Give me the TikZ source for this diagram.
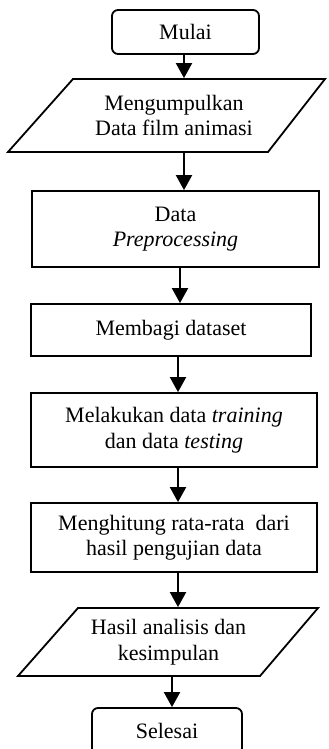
\documentclass[tikz,border=0pt]{standalone}
\usepackage{fontspec}
\setmainfont{Liberation Serif}
\usetikzlibrary{arrows.meta}
\begin{document}
\begin{tikzpicture}[x=1pt,y=-1pt, line width=1.8pt,
  lbl/.style={inner sep=0pt, align=center, font=\fontsize{22}{25.5}\selectfont},
  box/.style={lbl, draw, rectangle},
  term/.style={box, rounded corners=6pt},
  arr/.style={-{Triangle[width=16pt,length=15pt]}, line width=2pt}]
\useasboundingbox (0,0) rectangle (329,749);

\node[term, minimum width=147pt, minimum height=44pt] (mulai) at (185.5,32) {Mulai};
\draw (73,79) -- (325,79) -- (268,152) -- (8,152) -- cycle;
\node[lbl, minimum height=73pt] (p1) at (174,115.5) {Mengumpulkan\\Data film animasi};
\node[box, minimum width=287pt, minimum height=76pt] (prep) at (175.5,229) {Data\\\textit{Preprocessing}};
\node[box, minimum width=280pt, minimum height=52pt] (bagi) at (171,330) {Membagi dataset};
\node[box, minimum width=286pt, minimum height=74pt] (latih) at (174,430) {Melakukan data \textit{training}\\dan data \textit{testing}};
\node[box, minimum width=286pt, minimum height=69pt] (hitung) at (174,537.5) {Menghitung rata-rata~ dari\\hasil pengujian data};
\draw (78,608) -- (318,608) -- (260,676) -- (18,676) -- cycle;
\node[lbl, minimum height=68pt] (p2) at (168.5,642) {Hasil analisis dan\\kesimpulan};
\node[term, minimum width=150pt, minimum height=46pt] (selesai) at (167,731) {Selesai};

\coordinate (x1) at (184,0);
\coordinate (x2) at (180,0);
\coordinate (x3) at (178,0);
\coordinate (x4) at (172,0);
\draw[arr] (mulai.south -| x1) -- (p1.north -| x1);
\draw[arr] (p1.south -| x1) -- (prep.north -| x1);
\draw[arr] (prep.south -| x2) -- (bagi.north -| x2);
\draw[arr] (bagi.south -| x3) -- (latih.north -| x3);
\draw[arr] (latih.south -| x3) -- (hitung.north -| x3);
\draw[arr] (hitung.south -| x3) -- (p2.north -| x3);
\draw[arr] (p2.south -| x4) -- (selesai.north -| x4);
\end{tikzpicture}
\end{document}
